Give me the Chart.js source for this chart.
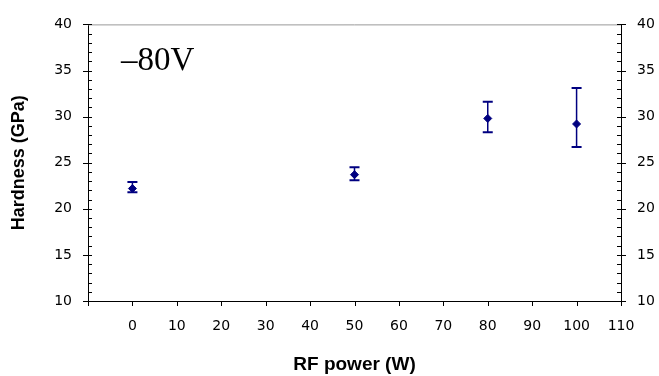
<!DOCTYPE html>
<html>
<head>
<meta charset="utf-8">
<script src="https://cdn.jsdelivr.net/npm/chart.js@4/dist/chart.umd.min.js"></script>
<style>
    html, body { margin: 0; padding: 0; background: #fff; }
    #wrap { width: 659px; height: 376px; }
</style>
</head>
<body>
<div id="wrap"><canvas id="hardnessChart"></canvas></div>
<script>
// ── Data ───────────────────────────────────────────────
const rfPower   = [0, 50, 80, 100];
const hardness  = [22.2, 23.7, 29.8, 29.2];
const errLow    = [21.8, 23.1, 28.3, 26.7];
const errHigh   = [22.9, 24.5, 31.6, 33.1];
const biasLabel = "\u201380V";

const NAVY = "#000080";
const tickFont = { family: "DejaVu Sans", size: 14 };

// ── Error bars, minor ticks, frame, annotation ────────
const extras = {
    id: "extras",
    afterDatasetsDraw(chart) {
        const { ctx, chartArea: area, scales } = chart;
        const x = scales.x, y = scales.y;

        ctx.save();
        // error bars
        ctx.strokeStyle = NAVY;
        rfPower.forEach((p, i) => {
            const px = x.getPixelForValue(p);
            const top = y.getPixelForValue(errHigh[i]);
            const bot = y.getPixelForValue(errLow[i]);
            ctx.lineWidth = 1.5;
            ctx.beginPath();
            ctx.moveTo(px, top); ctx.lineTo(px, bot);
            ctx.stroke();
            ctx.lineWidth = 2;
            ctx.beginPath();
            ctx.moveTo(px - 5, top); ctx.lineTo(px + 5, top);
            ctx.moveTo(px - 5, bot); ctx.lineTo(px + 5, bot);
            ctx.stroke();
        });

        // top frame line
        ctx.strokeStyle = "#999";
        ctx.lineWidth = 1;
        ctx.beginPath();
        ctx.moveTo(area.left, area.top + 0.5);
        ctx.lineTo(area.right, area.top + 0.5);
        ctx.stroke();

        // axis ticks
        ctx.strokeStyle = "#000";
        ctx.beginPath();
        for (let v = 10; v <= 40; v++) {
            const py = Math.round(y.getPixelForValue(v)) + 0.5;
            const major = v % 5 === 0;
            ctx.moveTo(area.left - (major ? 5 : 0), py);
            ctx.lineTo(area.left + 4, py);
            ctx.moveTo(area.right + (major ? 5 : 0), py);
            ctx.lineTo(area.right - 4, py);
        }
        for (let v = -10; v <= 110; v += 10) {
            const px = Math.round(x.getPixelForValue(v)) + 0.5;
            ctx.moveTo(px, area.bottom);
            ctx.lineTo(px, area.bottom + 5);
        }
        ctx.stroke();

        // bias annotation, clipped like the original text box
        ctx.beginPath();
        ctx.rect(area.left, area.top, 200, 48);
        ctx.clip();
        ctx.fillStyle = "#000";
        ctx.font = '33px "Liberation Serif", "Times New Roman", serif';
        ctx.textBaseline = "alphabetic";
        ctx.fillText(biasLabel, 121, 70);
        ctx.restore();
    }
};

new Chart(document.getElementById("hardnessChart"), {
    type: "scatter",
    data: {
        datasets: [{
            label: "Hardness",
            data: rfPower.map((p, i) => ({ x: p, y: hardness[i] })),
            backgroundColor: NAVY,
            borderColor: NAVY,
            pointStyle: "rectRot",
            pointRadius: 4,
            pointHoverRadius: 4,
            showLine: false
        }]
    },
    options: {
        responsive: true,
        maintainAspectRatio: false,
        animation: false,
        layout: { padding: { top: 19, left: 0, right: 0, bottom: 0 } },
        plugins: {
            legend: { display: false },
            tooltip: { enabled: false }
        },
        scales: {
            x: {
                type: "linear",
                min: -10, max: 110,
                grid: { display: false, drawTicks: false },
                border: { display: true, color: "#000", width: 1 },
                ticks: {
                    stepSize: 10,
                    color: "#000",
                    font: tickFont,
                    padding: 17,
                    maxRotation: 0,
                    callback: v => v < 0 ? "" : v
                },
                title: {
                    display: true, text: "RF power (W)", color: "#000",
                    font: { family: "Liberation Sans, Arial", size: 19, weight: "bold" },
                    padding: { top: 0, bottom: 0 }
                },
                afterFit: s => { s.height = 75; }
            },
            y: {
                position: "left",
                min: 10, max: 40,
                grid: { display: false, drawTicks: false },
                border: { display: true, color: "#000", width: 1 },
                ticks: { stepSize: 5, color: "#000", font: tickFont, padding: 16 },
                title: {
                    display: true, text: "Hardness (GPa)", color: "#000",
                    font: { family: "Liberation Sans, Arial", size: 18, weight: "bold" },
                    padding: { top: 8, bottom: 0 }
                },
                afterFit: s => { s.width = 88; }
            },
            y2: {
                position: "right",
                min: 10, max: 40,
                grid: { display: false, drawTicks: false },
                border: { display: true, color: "#000", width: 1 },
                ticks: { stepSize: 5, color: "#000", font: tickFont, padding: 16 },
                afterFit: s => { s.width = 38; }
            }
        }
    },
    plugins: [extras]
});
</script>
</body>
</html>
